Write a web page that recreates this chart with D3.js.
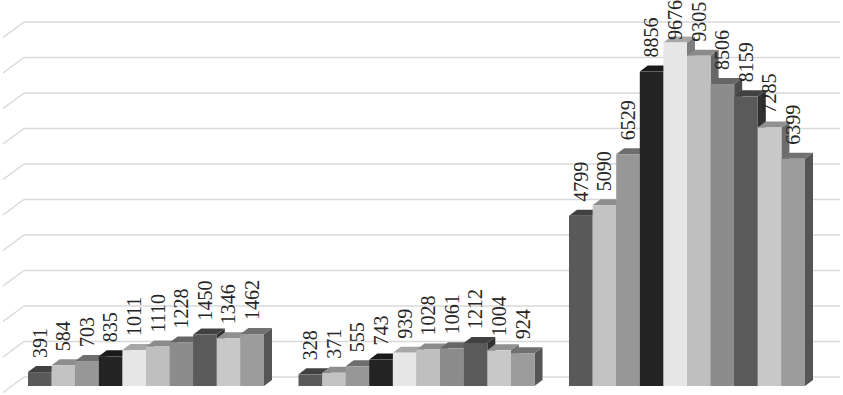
<!DOCTYPE html>
<html>
<head>
<meta charset="utf-8">
<script src="https://cdn.jsdelivr.net/npm/d3@7"></script>
<style>
  body { margin: 0; background: #fff; }
  svg { display: block; }
  .label { font-family: "Liberation Serif", serif; font-size: 20px; fill: #262626; }
</style>
</head>
<body>
<div id="canvas"></div>
<script>
// DATA
const categories = ["Group 1", "Group 2", "Group 3"];
const series = ["S1", "S2", "S3", "S4", "S5", "S6", "S7", "S8", "S9", "S10"];
const group1 = [391, 584, 703, 835, 1011, 1110, 1228, 1450, 1346, 1462];
const group2 = [328, 371, 555, 743, 939, 1028, 1061, 1212, 1004, 924];
const group3 = [4799, 5090, 6529, 8856, 9676, 9305, 8506, 8159, 7285, 6399];
const seriesColors = ["#595959", "#c2c2c2", "#979797", "#242424", "#e6e6e6",
                      "#bfbfbf", "#8c8c8c", "#5a5a5a", "#c8c8c8", "#9c9c9c"];

// DIMENSIONS
const width = 843;
const height = 395;
const depthX = 8, depthY = 6;        // bar depth projection
const wallX = 24, wallY = 9;         // back wall offset
const sideX = 3, sideY = 15.5;       // left wall diagonal end

const canvas = d3.select("#canvas")
  .append("svg")
  .attr("width", width)
  .attr("height", height)
  .style("background", "white");

// SCALES
const scaleX = d3.scaleBand()
  .domain(categories)
  .range([28, 805])
  .paddingInner(0.1275)
  .paddingOuter(0);

const scaleSeries = d3.scaleBand()
  .domain(series)
  .range([0, scaleX.bandwidth()])
  .padding(0);

const scaleY = d3.scaleLinear()
  .domain([0, 10000])
  .range([386, 31]);

// GRIDLINES (back wall + left wall diagonal)
const ticks = scaleY.ticks(10);
const grid = canvas.append("g").attr("class", "grid");

grid.selectAll("line.back")
  .data(ticks)
  .join("line")
  .attr("class", "back")
  .attr("x1", wallX)
  .attr("x2", 840)
  .attr("y1", d => scaleY(d) - wallY)
  .attr("y2", d => scaleY(d) - wallY)
  .style("stroke", "#d9d9d9")
  .style("stroke-width", 1.5);

grid.selectAll("line.side")
  .data(ticks)
  .join("line")
  .attr("class", "side")
  .attr("x1", wallX)
  .attr("x2", sideX)
  .attr("y1", d => scaleY(d) - wallY)
  .attr("y2", d => scaleY(d) - wallY + sideY)
  .style("stroke", "#d9d9d9")
  .style("stroke-width", 1.5);

// MANIPULATE DATA
const groups = [group1, group2, group3];
let bars = [];
groups.forEach((vals, gi) => {
  vals.forEach((v, si) => {
    bars.push({
      category: categories[gi],
      series: series[si],
      color: seriesColors[si],
      value: v
    });
  });
});

// BARS (drawn left to right so right neighbours cover side faces)
const w = scaleSeries.bandwidth();
const base = scaleY(0);

const barG = canvas.append("g")
  .selectAll("g.bar")
  .data(bars)
  .join("g")
  .attr("class", "bar");

barG.append("polygon")
  .attr("points", d => {
    const x = scaleX(d.category) + scaleSeries(d.series) + w;
    const top = scaleY(d.value);
    return [[x, top], [x + depthX, top - depthY], [x + depthX, base - depthY], [x, base]].join(" ");
  })
  .style("fill", d => d3.color(d.color).darker(1.7));

barG.append("polygon")
  .attr("points", d => {
    const x = scaleX(d.category) + scaleSeries(d.series);
    const top = scaleY(d.value);
    return [[x, top], [x + depthX, top - depthY], [x + w + depthX, top - depthY], [x + w, top]].join(" ");
  })
  .style("fill", d => d3.color(d.color).darker(0.9));

barG.append("rect")
  .attr("x", d => scaleX(d.category) + scaleSeries(d.series))
  .attr("y", d => scaleY(d.value))
  .attr("width", w)
  .attr("height", d => base - scaleY(d.value))
  .style("fill", d => d.color);

// LABELS
const labels = canvas.append("g")
  .selectAll("text")
  .data(bars)
  .join("text")
  .attr("class", "label")
  .attr("dy", "0.34em")
  .text(d => d.value);

labels.attr("transform", function (d) {
  const cx = scaleX(d.category) + scaleSeries(d.series) + w / 2;
  const len = this.getComputedTextLength();
  let y = scaleY(d.value) - 14;
  if (y - len < 0) y = len;   // keep label inside the chart area
  return `translate(${cx},${y}) rotate(-90)`;
});
</script>
</body>
</html>
